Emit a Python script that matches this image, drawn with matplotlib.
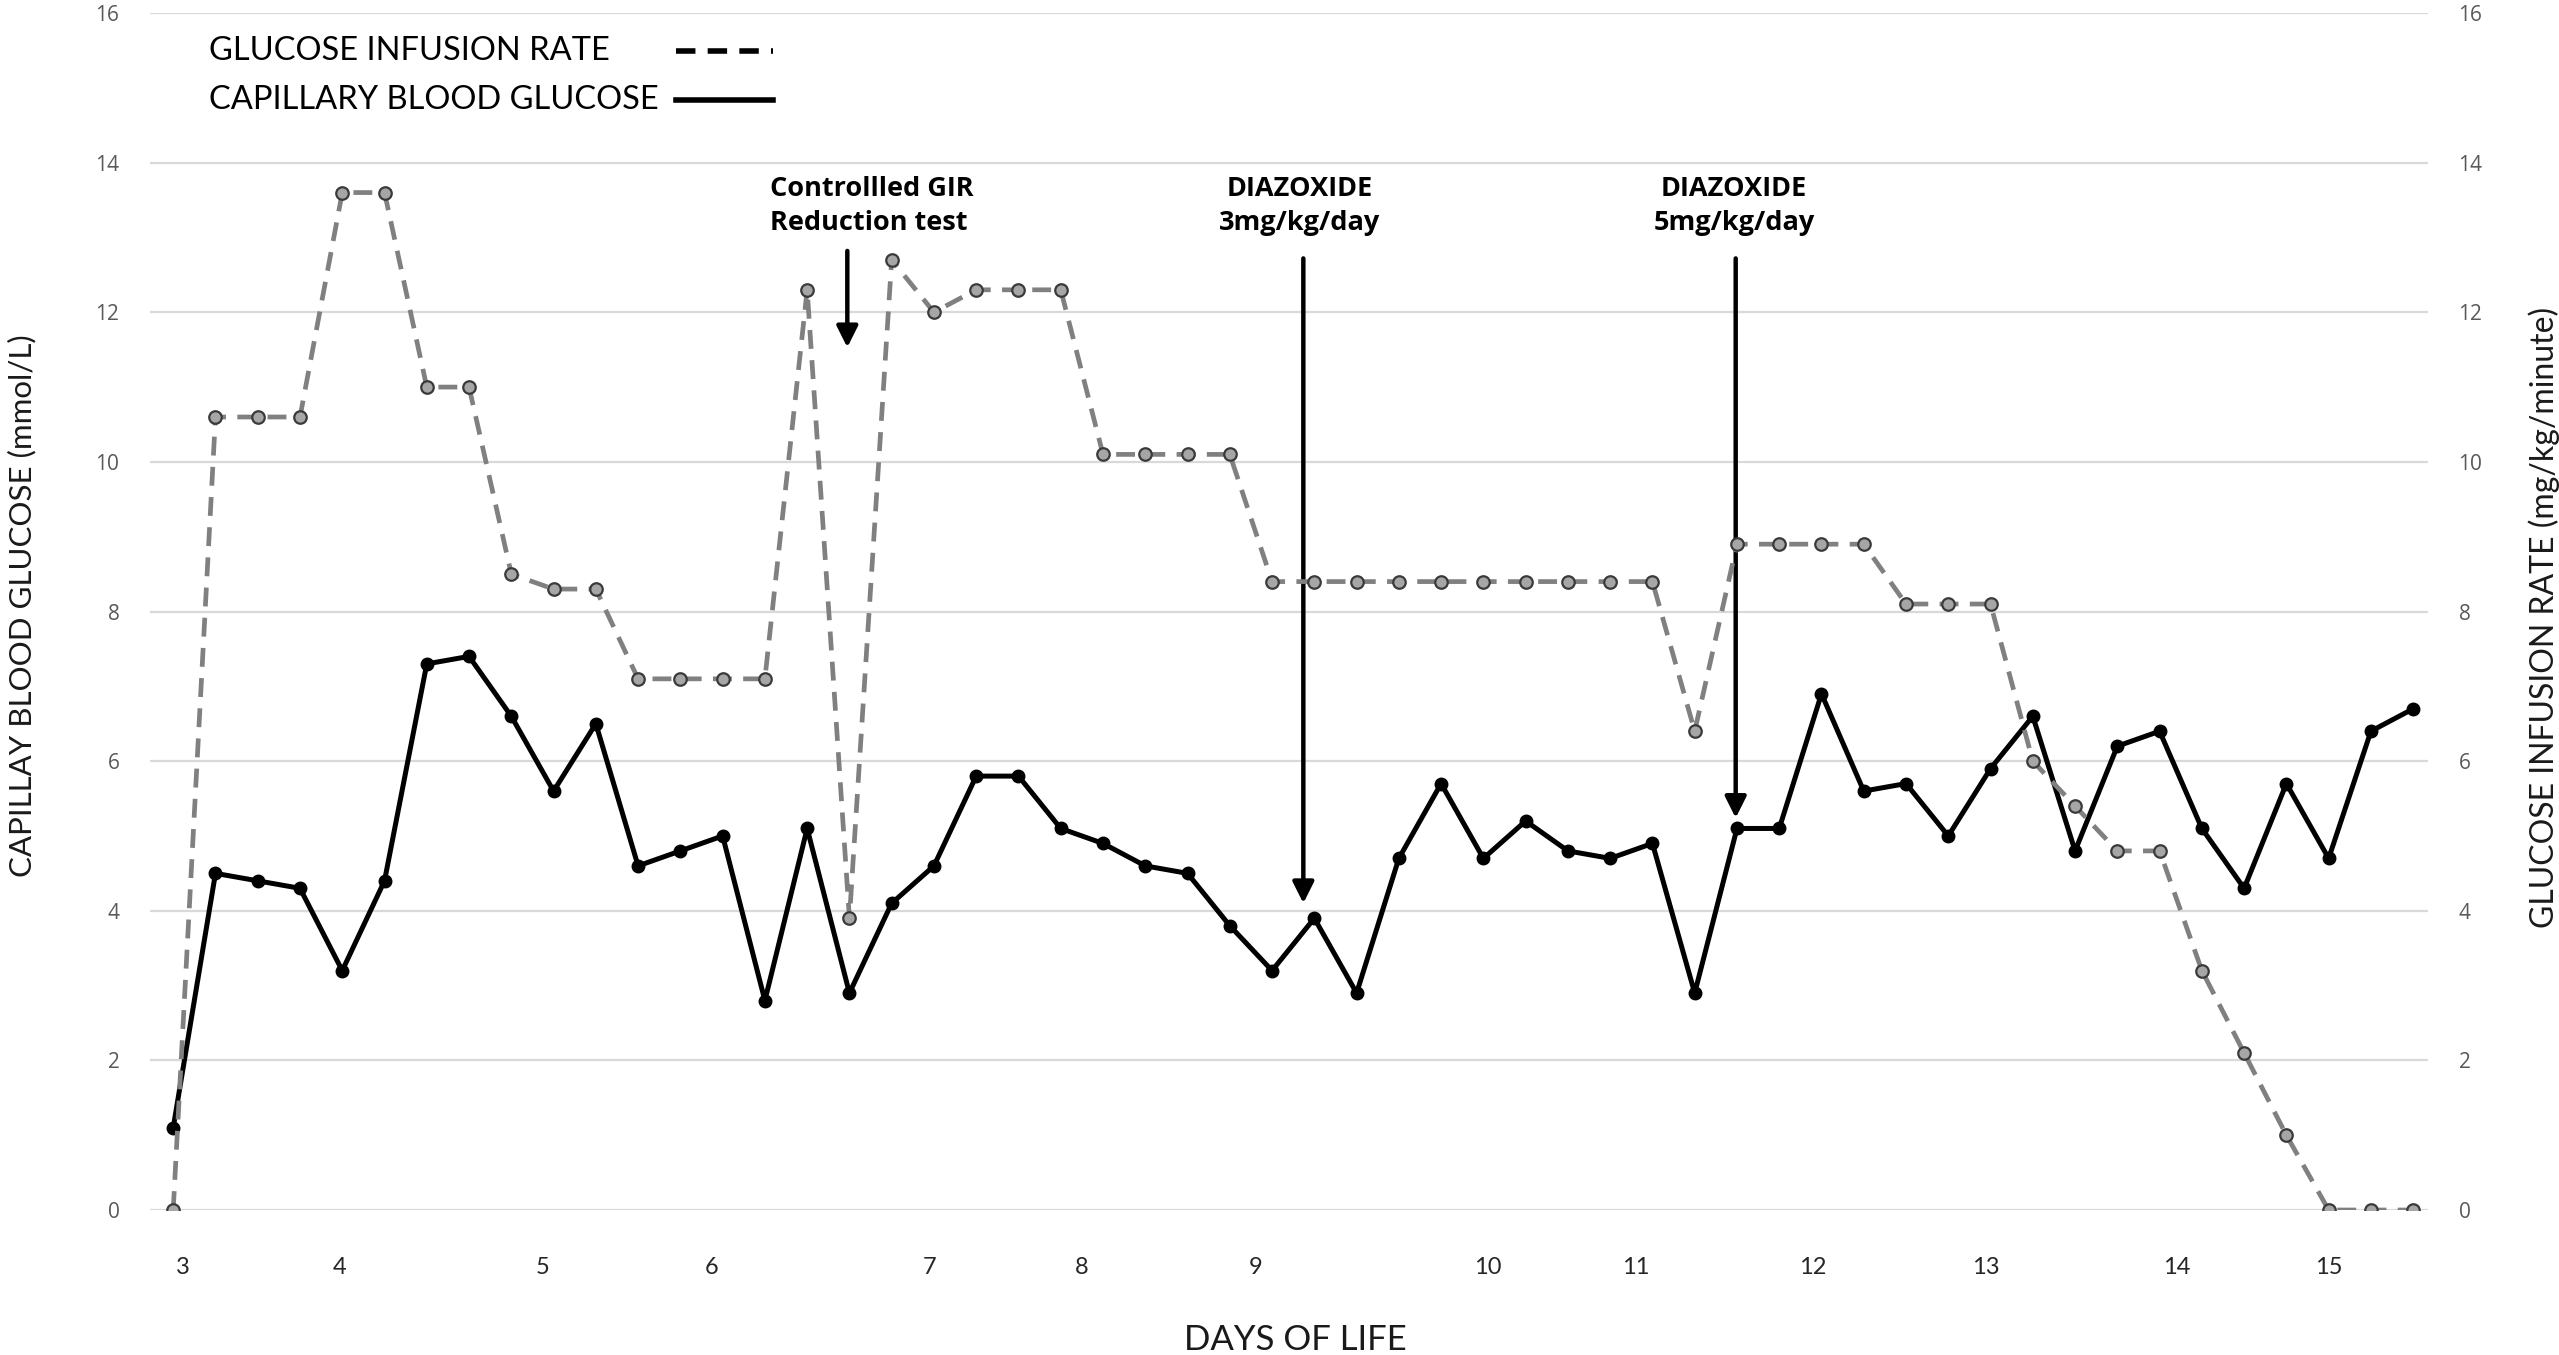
import matplotlib
matplotlib.use("Agg")
import matplotlib.pyplot as plt

# capillary blood glucose (mmol/L), one value per reading
cbg = [1.1, 4.5, 4.4, 4.3, 3.2, 4.4, 7.3, 7.4, 6.6, 5.6,
       6.5, 4.6, 4.8, 5.0, 2.8, 5.1, 2.9, 4.1, 4.6, 5.8,
       5.8, 5.1, 4.9, 4.6, 4.5, 3.8, 3.2, 3.9, 2.9, 4.7,
       5.7, 4.7, 5.2, 4.8, 4.7, 4.9, 2.9, 5.1, 5.1, 6.9,
       5.6, 5.7, 5.0, 5.9, 6.6, 4.8, 6.2, 6.4, 5.1, 4.3,
       5.7, 4.7, 6.4, 6.7]

# glucose infusion rate (mg/kg/minute)
gir = [0, 10.6, 10.6, 10.6, 13.6, 13.6, 11.0, 11.0, 8.5, 8.3,
       8.3, 7.1, 7.1, 7.1, 7.1, 12.3, 3.9, 12.7, 12.0, 12.3,
       12.3, 12.3, 10.1, 10.1, 10.1, 10.1, 8.4, 8.4, 8.4, 8.4,
       8.4, 8.4, 8.4, 8.4, 8.4, 8.4, 6.4, 8.9, 8.9, 8.9,
       8.9, 8.1, 8.1, 8.1, 6.0, 5.4, 4.8, 4.8, 3.2, 2.1,
       1.0, 0, 0, 0]

# day labels and where they sit along the reading index
day_labels = ["3", "4", "5", "6", "7", "8", "9", "10", "11", "12", "13", "14", "15"]
day_pos = [0.22, 3.93, 8.73, 12.75, 17.9, 21.5, 25.6, 31.1, 34.6, 38.8, 42.9, 47.4, 51.0]

# annotations: text, text x, arrow x, arrow start, arrow tip
events = [
    ("Controllled GIR\nReduction test", 14.13, 15.95, 12.82, 11.53, "left"),
    ("DIAZOXIDE\n3mg/kg/day", 26.66, 26.74, 12.72, 4.1, "center"),
    ("DIAZOXIDE\n5mg/kg/day", 36.93, 36.97, 12.72, 5.24, "center"),
]

narrow = ["Lato", "DejaVu Sans"]
wide = ["Open Sans", "DejaVu Sans"]

idx = list(range(len(cbg)))

fig = plt.figure(figsize=(25.59, 13.55), dpi=100)
ax = fig.add_axes([0.0586, 0.107, 0.8902, 0.8834])
ax2 = ax.twinx()

ax.set_xlim(-0.55, 53.35)
ax.set_ylim(0, 16)
ax2.set_ylim(0, 16)
ax.set_yticks(range(0, 17, 2))
ax2.set_yticks(range(0, 17, 2))
ax.yaxis.grid(True, color="#d9d9d9", lw=1.6)
ax.set_axisbelow(True)
for a in (ax, ax2):
    for s in a.spines.values():
        s.set_visible(False)
    a.tick_params(length=0, labelsize=15, labelcolor="#595959", pad=22)
    for lab in a.get_yticklabels():
        lab.set_family(wide)

ax.set_xticks(day_pos)
ax.set_xticklabels(day_labels, family=narrow, fontsize=17, color="#262626")
ax.tick_params(axis="x", pad=34)

ax.plot(idx, cbg, color="black", lw=3.6, marker="o", markersize=9,
        markerfacecolor="black", markeredgecolor="black", zorder=3)
ax2.plot(idx, gir, color="#808080", lw=3.4, dashes=(4, 2.4), marker="o",
         markersize=9, markerfacecolor="#a6a6a6", markeredgecolor="#3a3a3a",
         markeredgewidth=1.6, zorder=2)

ax.set_ylabel("CAPILLAY BLOOD GLUCOSE (mmol/L)", family=narrow, fontsize=22.5,
              color="#1a1a1a")
ax.yaxis.set_label_coords(-0.050, 0.505)
ax2.set_ylabel("GLUCOSE INFUSION RATE (mg/kg/minute)", family=narrow, fontsize=23,
               color="#1a1a1a")
ax2.yaxis.set_label_coords(1.044, 0.495)
ax.set_xlabel("DAYS OF LIFE", family=narrow, fontsize=25, color="#1a1a1a")
ax.xaxis.set_label_coords(0.503, -0.095)

for txt, tx, axx, y0, y1, ha in events:
    ax.text(tx, 13.42, txt, ha=ha, va="center", family=wide, fontweight="bold",
            fontsize=19.5, linespacing=1.4, color="black")
    ax.annotate("", xy=(axx, y1), xytext=(axx, y0),
                arrowprops=dict(arrowstyle="-|>", color="black", lw=3.2,
                                mutation_scale=32, shrinkA=0, shrinkB=0))

# legend drawn by hand: text on the left, line sample on the right
ax.text(0.85, 15.49, "GLUCOSE INFUSION RATE", family=narrow, fontsize=23.5,
        va="center", ha="left", color="black")
ax.text(0.85, 14.84, "CAPILLARY BLOOD GLUCOSE", family=narrow, fontsize=23.5,
        va="center", ha="left", color="black")
ax.plot([11.9, 14.2], [15.49, 15.49], color="black", lw=4, dashes=(3.5, 2.2))
ax.plot([11.9, 14.2], [14.84, 14.84], color="black", lw=4)

fig.savefig("out.png", dpi=100)
